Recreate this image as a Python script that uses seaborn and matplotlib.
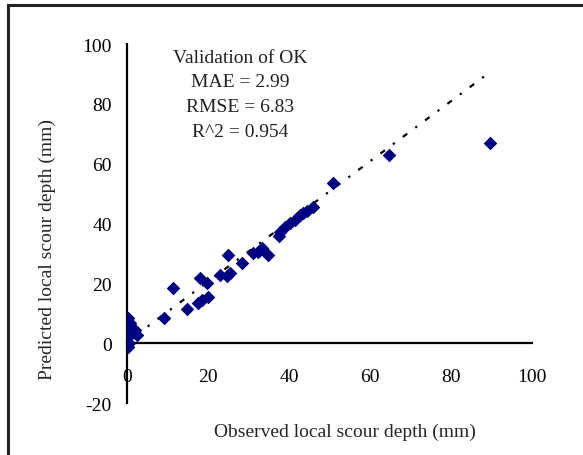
import matplotlib
matplotlib.use("Agg")
import matplotlib.pyplot as plt
import matplotlib.patches as mpatches
import pandas as pd
import seaborn as sns

# observed vs predicted local scour depth (mm)
observed = [0.3, 0.7, 1.2, 2.0, 0.3, 0.5, 0.3, 2.4, 0.8,
            9.0, 11.4, 14.7, 17.6, 18.0, 18.4, 19.7, 20.1,
            23.0, 24.6, 25.0, 25.4, 28.3, 31.2, 32.4, 33.3, 34.9,
            37.4, 37.8, 39.0, 40.2, 41.5, 42.7, 43.5, 44.4, 46.0,
            50.9, 64.6, 89.7]
predicted = [8.3, 5.5, 3.8, 4.4, 2.1, 0.0, -1.2, 2.7, 6.8,
             8.3, 18.4, 11.6, 13.3, 21.7, 14.4, 20.0, 15.5,
             22.8, 22.5, 29.5, 23.4, 26.7, 30.1, 30.6, 31.8, 29.5,
             35.7, 37.3, 39.0, 40.2, 41.3, 43.0, 43.5, 44.1, 45.7,
             53.6, 62.8, 67.0]

trend_x = [2, 90]
trend_y = [2.5, 91]

x_ticks = [0, 20, 40, 60, 80, 100]
y_ticks = [-20, 0, 20, 40, 60, 80, 100]

stats_text = "Validation of OK\nMAE = 2.99\nRMSE = 6.83\nR^2 = 0.954"

sns.set_style("white")
plt.rcParams["font.family"] = ["Liberation Serif", "DejaVu Serif"]
plt.rcParams["font.size"] = 14
plt.rcParams["axes.unicode_minus"] = False

df = pd.DataFrame({"obs": observed, "pred": predicted})

fig = plt.figure(figsize=(5.83, 4.56), dpi=100)
ax = fig.add_axes([0.218, 0.114, 0.6945, 0.787])

sns.lineplot(x=trend_x, y=trend_y, ax=ax, color="black", linewidth=1.6,
             linestyle=(0, (2.5, 4.5, 1, 4.5)))
sns.scatterplot(data=df, x="obs", y="pred", ax=ax, marker="D", s=48,
                color="#000080", linewidth=0, zorder=3)

ax.set_xlim(0, 100)
ax.set_ylim(-20, 100)
ax.set_xticks(x_ticks)
ax.set_yticks(y_ticks)

for side in ["top", "right"]:
    ax.spines[side].set_visible(False)
ax.spines["bottom"].set_position(("data", 0))
ax.spines["left"].set_position(("data", 0))
for side in ["bottom", "left"]:
    ax.spines[side].set_color("black")
    ax.spines[side].set_linewidth(1.6)
ax.spines["bottom"].set_zorder(1)

ax.tick_params(axis="x", direction="out", length=4, width=1.6, pad=14,
               colors="black", labelsize=14)
ax.tick_params(axis="y", direction="out", length=5, width=1.6, pad=6,
               colors="black", labelsize=14)

ax.set_xlabel("Observed local scour depth (mm)", fontsize=14)
ax.set_ylabel("Predicted local scour depth (mm)", fontsize=14)
ax.xaxis.set_label_coords(0.538, -0.055)
ax.yaxis.set_label_coords(-0.175, 0.43)

ax.text(27.9, 98.5, stats_text, ha="center", va="top", fontsize=14,
        linespacing=1.6, color="#222222")

# outer frame (cut off on the right and bottom in the reference)
fig.patches.append(mpatches.Rectangle((0.013, -0.1), 1.2, 1.087,
                                      transform=fig.transFigure,
                                      fill=False, edgecolor="#222222",
                                      linewidth=2.2))

fig.savefig("out.png", dpi=100)
plt.close(fig)
